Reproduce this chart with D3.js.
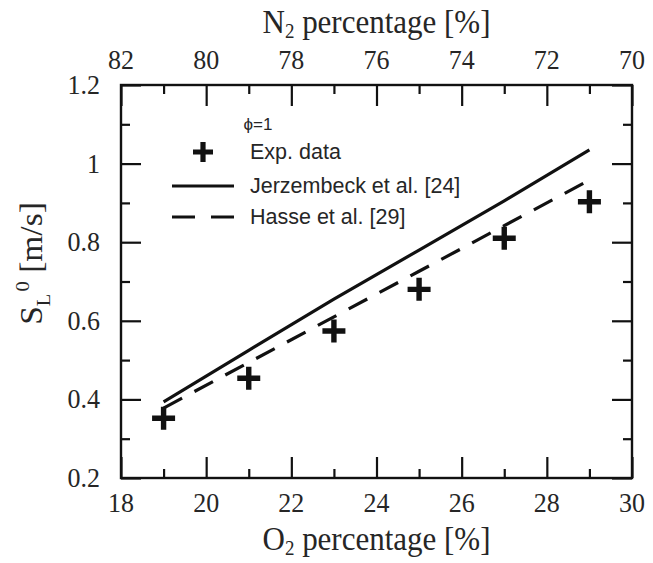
<!DOCTYPE html>
<html>
<head>
<meta charset="utf-8">
<script src="https://cdn.jsdelivr.net/npm/d3@7"></script>
<style>
  html, body { margin: 0; padding: 0; background: #fff; }
  svg { display: block; }
</style>
</head>
<body>
<svg id="chart" width="653" height="563"></svg>
<script>
// O2 mole fraction in the oxidiser [%]
const o2 = [19, 21, 23, 25, 27, 29];
// Measured laminar burning velocity, phi = 1 [m/s]
const expData = [0.352, 0.454, 0.574, 0.680, 0.810, 0.903];
// Jerzembeck et al. [24] correlation [m/s]
const jerzembeck = [0.394, 0.525, 0.655, 0.780, 0.905, 1.035];
// Hasse et al. [29] correlation [m/s]
const hasse = [0.378, 0.494, 0.610, 0.726, 0.842, 0.958];

const xTicks = [18, 20, 22, 24, 26, 28, 30];
const xMinor = [19, 21, 23, 25, 27, 29];
const n2Ticks = [82, 80, 78, 76, 74, 72, 70];
const n2Minor = [81, 79, 77, 75, 73, 71];
const yTicks = [0.2, 0.4, 0.6, 0.8, 1.0, 1.2];
const yMinor = [0.3, 0.5, 0.7, 0.9, 1.1];
const legendLabels = ["Exp. data", "Jerzembeck et al. [24]", "Hasse et al. [29]"];

const svg = d3.select("#chart");
const L = 121, R = 632, T = 85, B = 478;

const x = d3.scaleLinear().domain([18, 30]).range([L, R]);
const xN2 = d3.scaleLinear().domain([82, 70]).range([L, R]);
const y = d3.scaleLinear().domain([0.2, 1.2]).range([B, T]);

const serif = "'Liberation Serif', 'Times New Roman', serif";
const sans = "'Liberation Sans', Arial, sans-serif";
const ink = "#111";
const textInk = "#262626";
const stretch = 1.08; // serif lettering is slightly tall

// frame
svg.append("rect")
  .attr("x", L).attr("y", T).attr("width", R - L).attr("height", B - T)
  .attr("fill", "none").attr("stroke", ink).attr("stroke-width", 2.4);

const fmtY = d => d === 1 ? "1" : d3.format(".1f")(d);

// axes with inward ticks; labels are placed separately
function styleAxis(g) {
  g.select(".domain").remove();
  g.selectAll("line").attr("stroke", ink).attr("stroke-width", 2.2);
  g.selectAll("text").remove();
}

function serifLabels(data, px, py, anchor, fmt) {
  svg.append("g").selectAll("text").data(data).join("text")
    .attr("transform", d => `translate(${px(d)},${py(d)}) scale(1,${stretch})`)
    .attr("text-anchor", anchor)
    .attr("font-family", serif).attr("font-size", 26).attr("fill", textInk)
    .text(fmt);
}

// bottom axis (O2)
svg.append("g").attr("transform", `translate(0,${B})`)
  .call(d3.axisTop(x).tickValues(xTicks).tickSize(21)).call(styleAxis);
svg.append("g").attr("transform", `translate(0,${B})`)
  .call(d3.axisTop(x).tickValues(xMinor).tickSize(9)).call(styleAxis);
serifLabels(xTicks, d => x(d), () => 512, "middle", d => d);

// top axis (N2)
svg.append("g").attr("transform", `translate(0,${T})`)
  .call(d3.axisBottom(xN2).tickValues(n2Ticks).tickSize(21)).call(styleAxis);
svg.append("g").attr("transform", `translate(0,${T})`)
  .call(d3.axisBottom(xN2).tickValues(n2Minor).tickSize(9)).call(styleAxis);
serifLabels(n2Ticks, d => xN2(d), () => 69, "middle", d => d);

// left axis
svg.append("g").attr("transform", `translate(${L},0)`)
  .call(d3.axisRight(y).tickValues(yTicks).tickSize(20)).call(styleAxis);
svg.append("g").attr("transform", `translate(${L},0)`)
  .call(d3.axisRight(y).tickValues(yMinor).tickSize(9)).call(styleAxis);
serifLabels(yTicks, () => 100, d => y(d) + 9, "end", fmtY);

// right axis
svg.append("g").attr("transform", `translate(${R},0)`)
  .call(d3.axisLeft(y).tickValues(yTicks).tickSize(20)).call(styleAxis);
svg.append("g").attr("transform", `translate(${R},0)`)
  .call(d3.axisLeft(y).tickValues(yMinor).tickSize(9)).call(styleAxis);

// axis titles
function subTitle(tx, ty, main, sub, rest) {
  const t = svg.append("text")
    .attr("transform", `translate(${tx},${ty}) scale(1,${stretch})`)
    .attr("text-anchor", "middle")
    .attr("font-family", serif).attr("font-size", 31).attr("fill", textInk);
  t.append("tspan").text(main);
  t.append("tspan").attr("font-size", 19).attr("dy", 5).text(sub);
  t.append("tspan").attr("dy", -5).text(rest);
}
subTitle((L + R) / 2, 33, "N", "2", " percentage [%]");
subTitle((L + R) / 2, 550, "O", "2", " percentage [%]");

const yTitle = svg.append("text")
  .attr("transform", `translate(42,${(T + B) / 2 - 18}) rotate(-90) scale(${stretch},1)`)
  .attr("text-anchor", "middle")
  .attr("font-family", serif).attr("font-size", 31).attr("fill", textInk);
yTitle.append("tspan").text("S");
yTitle.append("tspan").attr("font-size", 19).attr("dy", 8).text("L");
yTitle.append("tspan").attr("font-size", 19).attr("dy", -21).attr("dx", 2).text("0");
yTitle.append("tspan").attr("dy", 13).text(" [m/s]");

// model curves
const line = d3.line().x((d, i) => x(o2[i])).y(d => y(d));
svg.append("path").datum(jerzembeck).attr("d", line)
  .attr("fill", "none").attr("stroke", ink).attr("stroke-width", 3.2);
svg.append("path").datum(hasse).attr("d", line)
  .attr("fill", "none").attr("stroke", ink).attr("stroke-width", 3.2)
  .attr("stroke-dasharray", "21,14");

// experimental points: bold plus markers
function plus(a, w) {
  return `M${-a},${-w}H${-w}V${-a}H${w}V${-w}H${a}V${w}H${w}V${a}H${-w}V${w}H${-a}Z`;
}
svg.append("g").selectAll("path").data(expData).join("path")
  .attr("transform", (d, i) => `translate(${x(o2[i])},${y(d)})`)
  .attr("d", plus(11.5, 2.7))
  .attr("fill", ink);

// legend
const lg = svg.append("g");
lg.append("text").attr("x", 258).attr("y", 130).attr("text-anchor", "middle")
  .attr("font-family", sans).attr("font-size", 17).attr("fill", textInk).text("ϕ=1");
lg.append("path").attr("transform", "translate(203,152)")
  .attr("d", plus(10, 2.6)).attr("fill", ink);
lg.append("line").attr("x1", 172).attr("x2", 234).attr("y1", 186).attr("y2", 186)
  .attr("stroke", ink).attr("stroke-width", 3.2);
lg.append("line").attr("x1", 172).attr("x2", 234).attr("y1", 217).attr("y2", 217)
  .attr("stroke", ink).attr("stroke-width", 3.2).attr("stroke-dasharray", "23,16");
lg.selectAll("text.lab").data(legendLabels).join("text").attr("class", "lab")
  .attr("x", 250).attr("y", (d, i) => [159, 193, 224][i])
  .attr("font-family", sans).attr("font-size", 21.5).attr("fill", textInk)
  .text(d => d);
</script>
</body>
</html>
